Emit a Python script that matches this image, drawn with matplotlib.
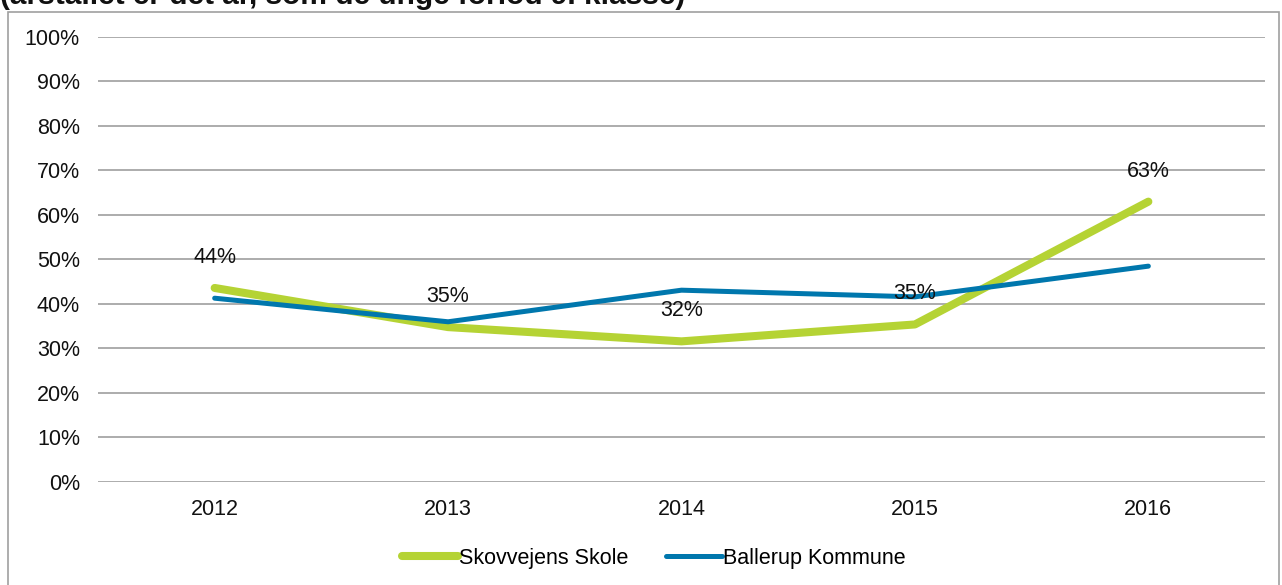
import matplotlib.pyplot as plt
from matplotlib.patches import Rectangle
from matplotlib.ticker import PercentFormatter

plt.rcParams['font.family'] = ['Liberation Sans', 'DejaVu Sans']

years = ['2012', '2013', '2014', '2015', '2016']
skovvejens = [43.6, 34.8, 31.6, 35.4, 63.0]
ballerup = [41.3, 36.0, 43.1, 41.6, 48.5]
skovvejens_labels = ['44%', '35%', '32%', '35%', '63%']

green = '#b5d334'
blue = '#0077ad'

fig = plt.figure(figsize=(12.82, 5.85), dpi=100)
ax = fig.add_axes([0.0764, 0.1761, 0.9104, 0.7607])

x = range(len(years))
ax.plot(x, skovvejens, color=green, lw=5.8, solid_capstyle='round',
        solid_joinstyle='round', label='Skovvejens Skole', zorder=3)
ax.plot(x, ballerup, color=blue, lw=3.6, solid_capstyle='round',
        solid_joinstyle='round', label='Ballerup Kommune', zorder=4)

for i, (v, lab) in enumerate(zip(skovvejens, skovvejens_labels)):
    ax.annotate(lab, (i, v), xytext=(0, 22), textcoords='offset points',
                ha='center', va='center', fontsize=15.5, color='#111111', zorder=5)

ax.set_xlim(-0.5, len(years) - 0.5)
ax.set_ylim(0, 100)
ax.set_yticks(range(0, 101, 10))
ax.yaxis.set_major_formatter(PercentFormatter(decimals=0))
ax.set_xticks(list(x))
ax.set_xticklabels(years)
ax.grid(axis='y', color='#a6a6a6', lw=1.3)
ax.set_axisbelow(True)
for s in ax.spines.values():
    s.set_visible(False)
ax.tick_params(length=0, labelsize=15.5, colors='#111111')
ax.tick_params(axis='y', pad=13)
ax.tick_params(axis='x', pad=12)

ax.legend(loc='center', bbox_to_anchor=(0.476, -0.172), ncol=2, frameon=False,
          fontsize=15.5, handlelength=2.6, handletextpad=0.05, columnspacing=1.75)

# chart frame
fig.patches.append(Rectangle((8 / 1282, -0.01), 1271 / 1282, 1 - 12 / 585 + 0.01,
                             transform=fig.transFigure, fill=False,
                             edgecolor='#a0a0a0', lw=1.2))

fig.text(0.0, 1 - 4 / 585, '(årstallet er det år, som de unge forlod 9. klasse)',
         fontsize=21.5, fontweight='bold', ha='left', va='baseline', color='#111111')

fig.savefig('out.png', dpi=100)
